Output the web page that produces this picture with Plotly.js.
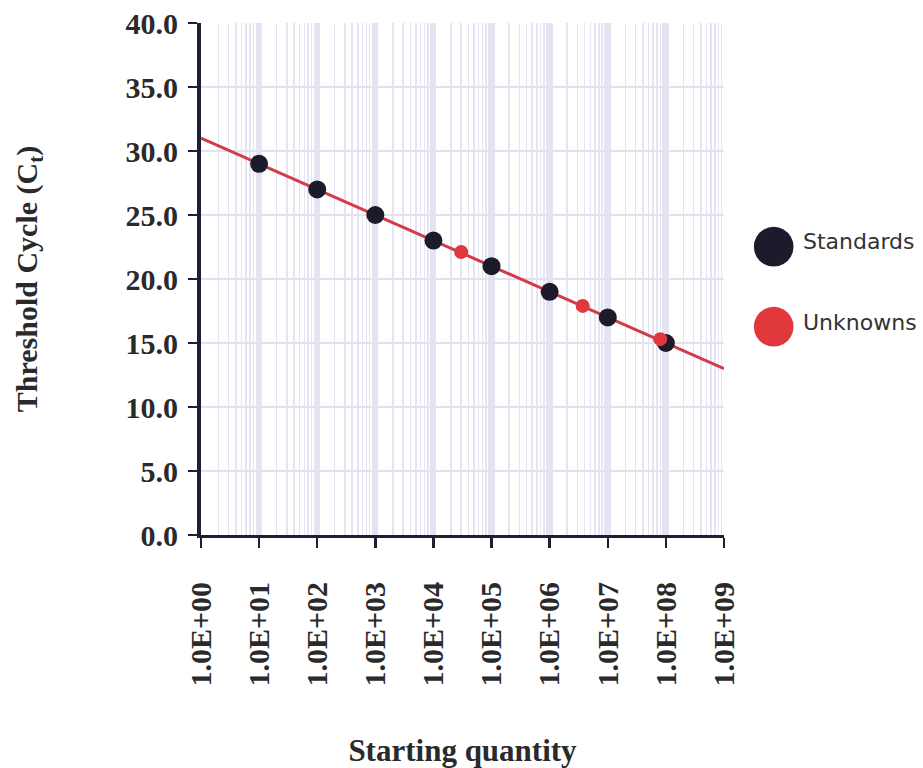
<!DOCTYPE html>
<html>
<head>
<meta charset="utf-8">
<script src="https://cdn.plot.ly/plotly-3.0.1.min.js"></script>
<style>html,body{margin:0;padding:0;background:#fff;}#chart{width:923px;height:768px;}</style>
</head>
<body>
<div id="chart"></div>
<script>
// Standards: starting quantity vs threshold cycle
var stdQuantity = [1e1, 1e2, 1e3, 1e4, 1e5, 1e6, 1e7, 1e8];
var stdCt = [29.0, 27.0, 25.0, 23.0, 21.0, 19.0, 17.0, 15.0];
// Unknowns
var unkQuantity = [3.0e4, 3.7e6, 8.0e7];
var unkCt = [22.1, 17.9, 15.3];
// Fitted standard curve (end points)
var fitQuantity = [1e0, 1e9];
var fitCt = [31.0, 13.0];
// Tick labels
var xTickVals = [1e0, 1e1, 1e2, 1e3, 1e4, 1e5, 1e6, 1e7, 1e8, 1e9];
var xTickText = ["1.0E+00", "1.0E+01", "1.0E+02", "1.0E+03", "1.0E+04", "1.0E+05", "1.0E+06", "1.0E+07", "1.0E+08", "1.0E+09"];
var legendNames = ["Standards", "Unknowns"];

var serif = "Liberation Serif, Times New Roman, serif";
var sans = "DejaVu Sans, Verdana, sans-serif";
var axisColor = "#1e1e34";
var textColor = "#2a2a2a";
var stdColor = "#1b1b2b";
var unkColor = "#e0383c";
var fitColor = "#d23c48";

var traces = [
  {x: fitQuantity, y: fitCt, type: "scatter", mode: "lines", name: "Standard curve",
   line: {color: fitColor, width: 3}, showlegend: false, hoverinfo: "skip"},
  {x: stdQuantity, y: stdCt, type: "scatter", mode: "markers", name: legendNames[0],
   marker: {color: stdColor, size: 18}, showlegend: false},
  {x: unkQuantity, y: unkCt, type: "scatter", mode: "markers", name: legendNames[1],
   marker: {color: unkColor, size: 14}, showlegend: false}
];

function legendDot(color, yPaper) {
  return {xref: "paper", yref: "paper", x: 1.094, y: yPaper, xanchor: "center", yanchor: "middle",
          text: "\u25CF", showarrow: false, font: {family: sans, size: 52, color: color}};
}
function legendLabel(text, yPaper) {
  return {xref: "paper", yref: "paper", x: 1.147, y: yPaper, xanchor: "left", yanchor: "middle",
          text: text, showarrow: false, font: {family: sans, size: 22, color: "#333"}};
}

var layout = {
  width: 923, height: 768,
  margin: {l: 201, r: 199, t: 23, b: 233},
  paper_bgcolor: "#ffffff", plot_bgcolor: "#ffffff",
  showlegend: false,
  xaxis: {
    type: "log", range: [0, 9],
    tickmode: "array", tickvals: xTickVals, ticktext: xTickText,
    tickangle: -90, ticks: "outside", ticklen: 10, tickwidth: 2.5, tickcolor: axisColor,
    ticklabelstandoff: 22,
    showline: true, linecolor: axisColor, linewidth: 3,
    showgrid: true, gridcolor: "#e3e3f2", gridwidth: 6,
    minor: {dtick: "D1", showgrid: true, gridcolor: "#e4e4f2", gridwidth: 1.5, ticks: ""},
    zeroline: false,
    tickfont: {family: serif, size: 30, color: textColor, weight: "bold"},
    title: {text: "Starting quantity", standoff: 56,
            font: {family: serif, size: 31, color: textColor, weight: "bold"}},
    automargin: false, fixedrange: true
  },
  yaxis: {
    range: [0, 40], dtick: 5, tick0: 0, tickformat: ".1f",
    ticks: "outside", ticklen: 9, tickwidth: 2.5, tickcolor: axisColor,
    ticklabelstandoff: 4,
    showline: true, linecolor: axisColor, linewidth: 4,
    showgrid: true, gridcolor: "#e2e2ec", gridwidth: 1.5,
    zeroline: false,
    tickfont: {family: serif, size: 30, color: textColor, weight: "bold"},
    title: {text: "Threshold Cycle (C<sub>t</sub>)", standoff: 80,
            font: {family: serif, size: 30, color: textColor, weight: "bold"}},
    automargin: false, fixedrange: true
  },
  annotations: [
    legendDot(stdColor, 0.5723), legendLabel(legendNames[0], 0.5723),
    legendDot(unkColor, 0.416), legendLabel(legendNames[1], 0.416)
  ]
};

Plotly.newPlot("chart", traces, layout, {displayModeBar: false, staticPlot: true});
</script>
</body>
</html>
